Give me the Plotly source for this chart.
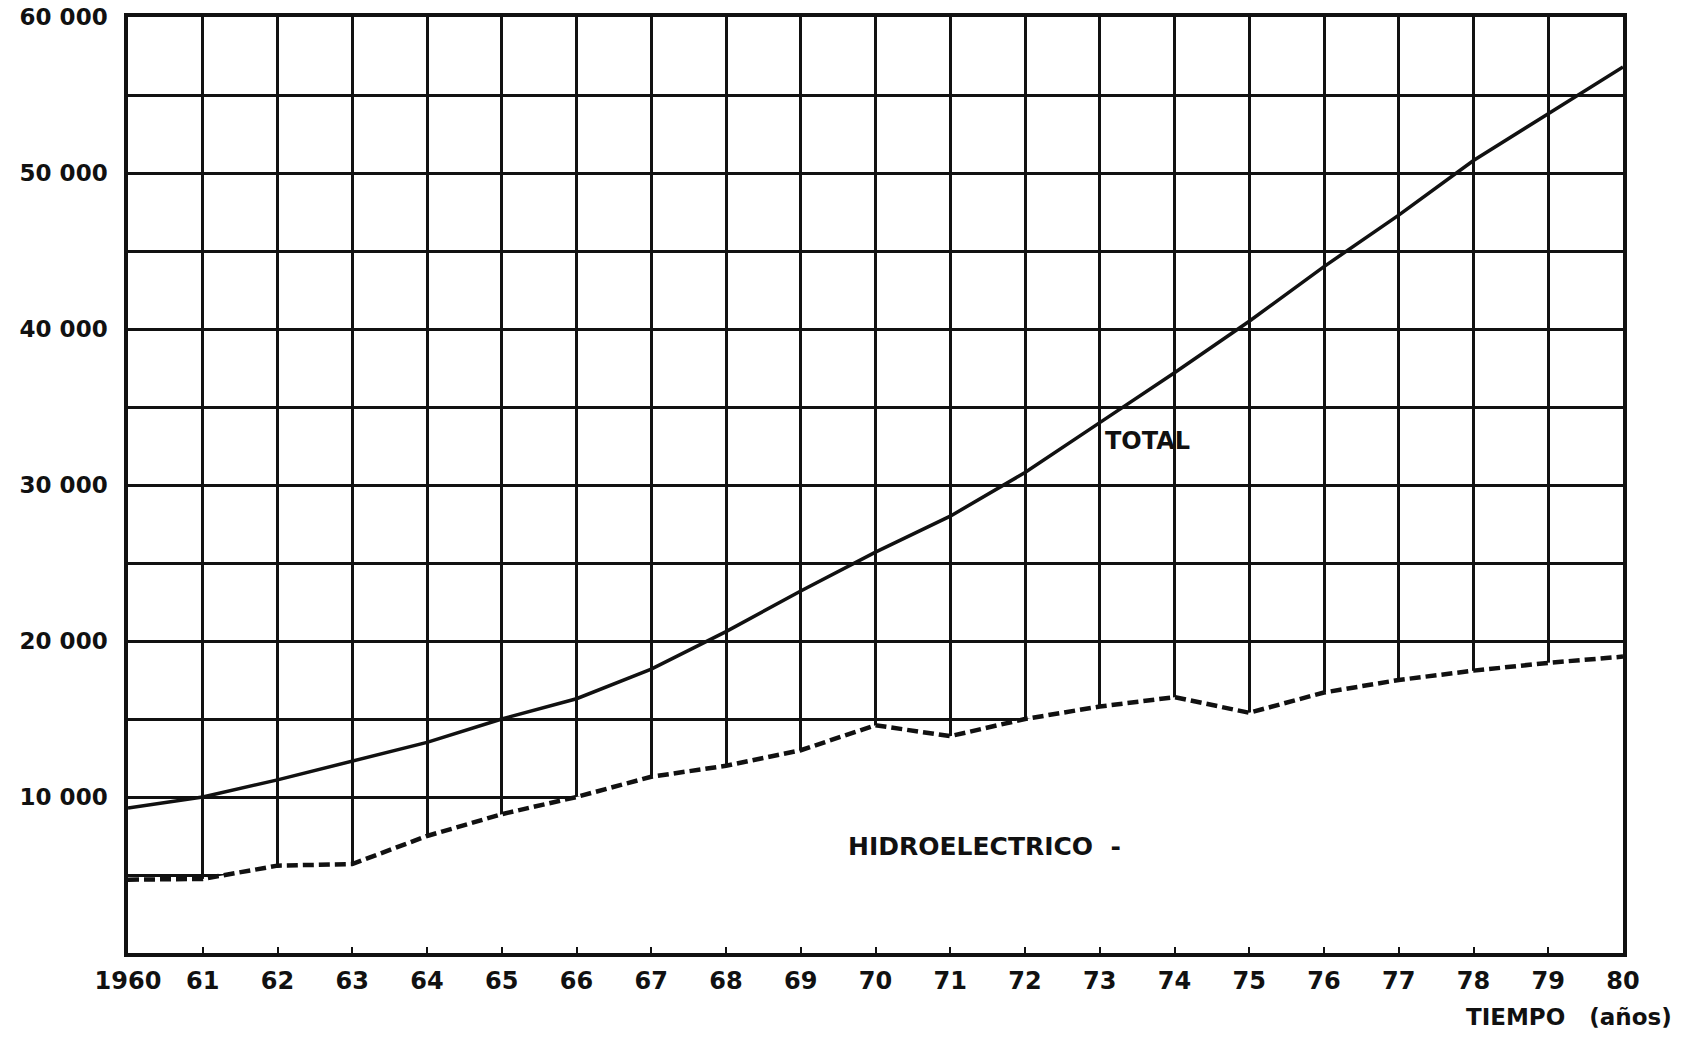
import plotly.graph_objects as go

years = list(range(1960, 1981))
total = [9300, 10000, 11100, 12300, 13500, 15000, 16300, 18200, 20600, 23200,
         25700, 28000, 30800, 34000, 37200, 40500, 44000, 47300, 50800, 53800, 56800]
hidro = [4700, 4750, 5600, 5700, 7500, 8900, 10000, 11300, 12000, 13000,
         14600, 13900, 15000, 15800, 16400, 15400, 16700, 17500, 18100, 18600, 19000]

x_tick_vals = years
x_tick_text = ["1960"] + [str(y)[2:] for y in years[1:]]
y_tick_vals = list(range(5000, 60001, 5000))
y_tick_text = [("%d 000" % (v // 1000)) if v % 10000 == 0 else "" for v in y_tick_vals]

FONT = "DejaVu Sans"
INK = "#111111"

fig = go.Figure()
# white area below the hydro curve hides the grid there
fig.add_trace(go.Scatter(x=years, y=hidro, mode="lines", fill="tozeroy",
                         fillcolor="white", line=dict(width=0, color="white"),
                         hoverinfo="skip", showlegend=False))
fig.add_trace(go.Scatter(x=years, y=hidro, mode="lines", name="Hidroeléctrico",
                         line=dict(color=INK, width=4.5, dash="11px,5px"),
                         showlegend=False))
fig.add_trace(go.Scatter(x=years, y=total, mode="lines", name="Total",
                         line=dict(color=INK, width=3.5), showlegend=False))

fig.add_annotation(x=1973.05, y=32800, text="TOTAL", showarrow=False,
                   xanchor="left", yanchor="middle",
                   font=dict(family=FONT, size=24, color=INK, weight="bold"))
fig.add_annotation(x=1969.6, y=6800, text="HIDROELECTRICO\u00a0\u00a0-", showarrow=False,
                   xanchor="left", yanchor="middle",
                   font=dict(family=FONT, size=25, color=INK, weight="bold"))
fig.add_annotation(xref="paper", yref="paper", x=1.034, y=-0.068,
                   text="TIEMPO\u00a0\u00a0\u00a0(años)", showarrow=False,
                   xanchor="right", yanchor="middle",
                   font=dict(family=FONT, size=23, color=INK, weight="bold"))

fig.update_xaxes(range=[1960, 1980], tickvals=x_tick_vals, ticktext=x_tick_text,
                 showgrid=True, gridcolor=INK, gridwidth=2.5,
                 showline=True, linecolor=INK, linewidth=3.5, mirror=True,
                 ticks="inside", ticklen=6, tickwidth=2, tickcolor=INK,
                 zeroline=False, automargin=False, ticklabelstandoff=3,
                 ticklabeloverflow="allow",
                 tickfont=dict(family=FONT, size=24, color=INK, weight="bold"))
fig.update_yaxes(range=[0, 60000], tickvals=y_tick_vals, ticktext=y_tick_text,
                 showgrid=True, gridcolor=INK, gridwidth=2.5,
                 showline=True, linecolor=INK, linewidth=3.5, mirror=True,
                 ticks="", zeroline=False, ticklabelstandoff=12, automargin=False,
                 ticklabeloverflow="allow",
                 tickfont=dict(family=FONT, size=23, color=INK, weight="bold"))

fig.update_layout(width=1688, height=1037,
                  margin=dict(l=128, r=65, t=17, b=84, autoexpand=False),
                  plot_bgcolor="white", paper_bgcolor="white")

fig.write_html("out.html", config={"displayModeBar": False},
               post_script="document.body.style.margin='0';document.body.style.overflow='hidden';")
